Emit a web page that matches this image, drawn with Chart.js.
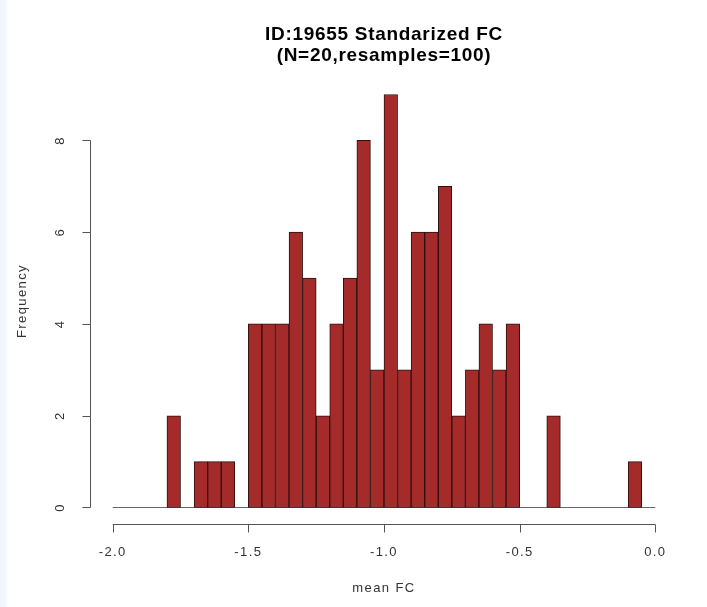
<!DOCTYPE html>
<html>
<head>
<meta charset="utf-8">
<title>ID:19655 Standarized FC</title>
<script src="https://cdn.jsdelivr.net/npm/chart.js@4.4.1/dist/chart.umd.min.js"></script>
<style>
  html, body { margin: 0; padding: 0; }
  body {
    width: 707px; height: 607px; overflow: hidden;
    background: linear-gradient(to right, #eef5fb 0, #f3f8fc 6px, #ffffff 8px);
  }
  #wrap { position: absolute; left: 0; top: 0; width: 707px; height: 607px; }
</style>
</head>
<body>
<div id="wrap"><canvas id="hist" width="707" height="607"></canvas></div>
<script>
// histogram bins: 40 bins of width 0.05 from -2.0 to 0.0
const binStart = -2.0;
const binWidth = 0.05;
const counts = [
  0, 0, 0, 0, 2, 0, 1, 1, 1, 0,
  4, 4, 4, 6, 5, 2, 4, 5, 8, 3,
  9, 3, 6, 6, 7, 2, 3, 4, 3, 4,
  0, 0, 2, 0, 0, 0, 0, 0, 1, 0
];
const xTicks = [-2.0, -1.5, -1.0, -0.5, 0.0];
const yTicks = [0, 2, 4, 6, 8];

const titleLines = ['ID:19655 Standarized FC', '(N=20,resamples=100)'];
const xLabel = 'mean FC';
const yLabel = 'Frequency';

const FONT = '"Liberation Sans", Arial, sans-serif';

const binEnd = binStart + binWidth * counts.length;
const yMax = Math.max(...counts);
// R style 4% padding on both axes
const xPad = (binEnd - binStart) * 0.04;
const yPad = yMax * 0.04;

const barData = counts.map((c, i) => ({ x: binStart + binWidth * (i + 0.5), y: c }));

// R-like axes: detached lines, ticks outward, labels parallel to the axis
const rAxes = {
  id: 'rAxes',
  beforeDatasetsDraw(chart) {
    const { ctx, scales: { x, y } } = chart;
    // zero-count bins show as a flat line along the base
    ctx.save();
    ctx.strokeStyle = '#666';
    ctx.lineWidth = 1;
    const y0 = Math.round(y.getPixelForValue(0)) + 0.5;
    ctx.beginPath();
    ctx.moveTo(x.getPixelForValue(binStart), y0);
    ctx.lineTo(x.getPixelForValue(binEnd), y0);
    ctx.stroke();
    ctx.restore();
  },
  afterDraw(chart) {
    const { ctx, chartArea: area, scales: { x, y } } = chart;
    ctx.save();
    ctx.strokeStyle = '#555';
    ctx.lineWidth = 1;
    ctx.fillStyle = '#333';
    ctx.font = '13px ' + FONT;
    ctx.letterSpacing = '1.4px';

    // x axis
    const ax = Math.round(area.bottom) + 0.5;
    ctx.beginPath();
    ctx.moveTo(x.getPixelForValue(xTicks[0]), ax);
    ctx.lineTo(x.getPixelForValue(xTicks[xTicks.length - 1]), ax);
    xTicks.forEach(t => {
      const px = Math.round(x.getPixelForValue(t)) + 0.5;
      ctx.moveTo(px, ax);
      ctx.lineTo(px, ax + 8);
    });
    ctx.stroke();
    ctx.textAlign = 'center';
    ctx.textBaseline = 'middle';
    xTicks.forEach(t => {
      ctx.fillText(t.toFixed(1), x.getPixelForValue(t), ax + 28);
    });

    // y axis
    const ay = Math.round(area.left) - 0.5;
    ctx.beginPath();
    ctx.moveTo(ay, y.getPixelForValue(yTicks[0]));
    ctx.lineTo(ay, y.getPixelForValue(yTicks[yTicks.length - 1]));
    yTicks.forEach(t => {
      const py = Math.round(y.getPixelForValue(t)) + 0.5;
      ctx.moveTo(ay, py);
      ctx.lineTo(ay - 8, py);
    });
    ctx.stroke();
    yTicks.forEach(t => {
      ctx.save();
      ctx.translate(ay - 30, y.getPixelForValue(t));
      ctx.rotate(-Math.PI / 2);
      ctx.fillText(String(t), 0, 0);
      ctx.restore();
    });

    // axis titles
    const cx = (area.left + area.right) / 2;
    const cy = (area.top + area.bottom) / 2;
    ctx.fillText(xLabel, cx, ax + 64);
    ctx.save();
    ctx.translate(22, cy);
    ctx.rotate(-Math.PI / 2);
    ctx.fillText(yLabel, 0, 0);
    ctx.restore();

    // main title
    ctx.fillStyle = '#000';
    ctx.font = 'bold 19px ' + FONT;
    ctx.letterSpacing = '0.7px';
    ctx.fillText(titleLines[0], cx, 35);
    ctx.fillText(titleLines[1], cx, 56);
    ctx.restore();
  }
};

new Chart(document.getElementById('hist'), {
  type: 'bar',
  data: {
    datasets: [{
      data: barData,
      backgroundColor: '#a52a2a',
      borderColor: '#2e1010',
      borderWidth: 1,
      borderSkipped: false,
      barPercentage: 1.0,
      categoryPercentage: 1.0
    }]
  },
  options: {
    responsive: false,
    animation: false,
    devicePixelRatio: 1,
    layout: { padding: { left: 91, right: 30, top: 78, bottom: 83 } },
    plugins: {
      legend: { display: false },
      tooltip: { enabled: false },
      title: { display: false }
    },
    scales: {
      x: { type: 'linear', offset: false, min: binStart - xPad, max: binEnd + xPad, display: false },
      y: { min: -yPad, max: yMax + yPad, display: false }
    }
  },
  plugins: [rAxes]
});
</script>
</body>
</html>
